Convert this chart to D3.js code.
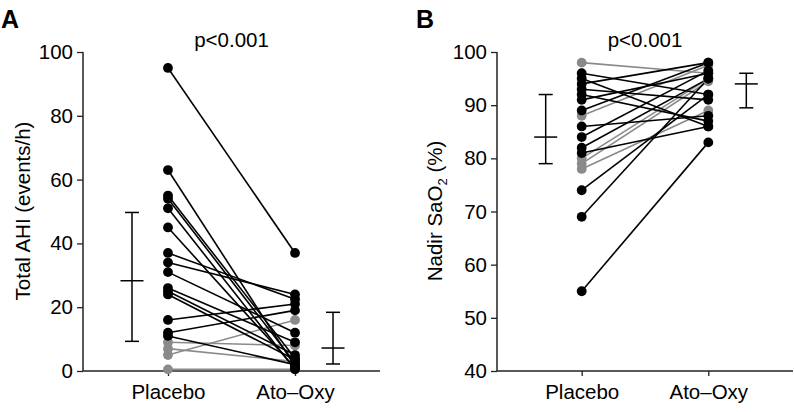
<!DOCTYPE html>
<html>
<head>
<meta charset="utf-8">
<script src="https://cdn.jsdelivr.net/npm/d3@7"></script>
<style>
  body { margin: 0; background: #fff; }
  text { font-family: "Liberation Sans", Arial, sans-serif; fill: #000; }
</style>
</head>
<body>
<svg id="chart" width="794" height="412"></svg>
<script>
// ---- data ----
let groups = ["Placebo", "Ato–Oxy"];

// panel A: total AHI (events/h), one row per subject [placebo, ato-oxy]
let ahiBlack = [[95, 37], [63, 1.5], [55, 4], [54, 2.5], [51, 0.5], [45, 1],
                [37, 22.5], [34, 24], [31, 12], [26, 9], [25, 5], [24, 3.5],
                [16, 21], [12, 19], [11, 2]];
let ahiGrey = [[9, 8], [5, 16], [7, 3], [0.5, 0.5]];
let ahiSummary = [{mid: 28.3, lo: 9.3, hi: 49.7}, {mid: 7.2, lo: 2.2, hi: 18.4}];
let ahiTicks = [0, 20, 40, 60, 80, 100];

// panel B: nadir SaO2 (%)
let satBlack = [[96, 92], [95, 86], [94, 98], [93, 91], [92, 87], [91, 96],
                [89, 98], [86, 88], [84, 96.5], [82, 95], [81, 86],
                [74, 92], [69, 95], [55, 83]];
let satGrey = [[98, 96], [88, 97.5], [80, 95], [78, 89], [79, 94.5]];
let satSummary = [{mid: 84, lo: 79, hi: 92}, {mid: 94, lo: 89.5, hi: 96}];
let satTicks = [40, 50, 60, 70, 80, 90, 100];

let svg = d3.select("#chart");
let black = "#000";
let grey = "#8a8a8a";
let fs = 20.5; // main font size

function drawPanel(opt) {
  let g = svg.append("g");
  let x = d3.scalePoint().domain(groups).range([opt.x0, opt.x1]).padding(0.669);
  let y = d3.scaleLinear().domain(opt.domain).range([371, 52]);

  // axes
  let yAxis = d3.axisLeft(y).tickValues(opt.ticks).tickSize(6).tickPadding(4);
  let ya = g.append("g").attr("transform", "translate(" + opt.x0 + ",0)").call(yAxis);
  let xAxis = d3.axisBottom(x).tickSize(5).tickPadding(8);
  let xa = g.append("g").attr("transform", "translate(0,371)").call(xAxis);
  [ya, xa].forEach(a => {
    a.select(".domain").attr("stroke", "#222").attr("stroke-width", 1.5)
    a.selectAll(".tick line").attr("stroke", "#222").attr("stroke-width", 1.3)
    a.selectAll(".tick text").attr("font-size", fs).attr("fill", "#000")
      .style("font-family", "Liberation Sans, Arial, sans-serif")
  })
  ya.select(".domain").attr("d", "M0,52V371")
  xa.select(".domain").attr("d", "M" + opt.x0 + ",0H" + opt.x1)

  // paired lines, grey first then black on top
  let sets = [{rows: opt.grey, col: grey}, {rows: opt.black, col: black}];
  sets.forEach(s => {
    g.append("g").selectAll("line").data(s.rows).enter().append("line")
      .attr("x1", x(groups[0])).attr("x2", x(groups[1]))
      .attr("y1", d => y(d[0])).attr("y2", d => y(d[1]))
      .attr("stroke", s.col).attr("stroke-width", 1.6)
  })
  sets.forEach(s => {
    let pts = [];
    s.rows.forEach(d => { pts.push([groups[0], d[0]]); pts.push([groups[1], d[1]]); })
    g.append("g").selectAll("circle").data(pts).enter().append("circle")
      .attr("cx", d => x(d[0])).attr("cy", d => y(d[1])).attr("r", 4.9)
      .attr("fill", s.col)
  })

  // summary bars
  let offs = [-36, 38];
  let sum = g.append("g").selectAll("g").data(opt.summary).enter().append("g")
    .attr("transform", (d, i) => "translate(" + (x(groups[i]) + offs[i]) + ",0)")
  sum.append("line").attr("y1", d => y(d.lo)).attr("y2", d => y(d.hi))
  sum.append("line").attr("x1", -7).attr("x2", 7).attr("y1", d => y(d.lo)).attr("y2", d => y(d.lo))
  sum.append("line").attr("x1", -7).attr("x2", 7).attr("y1", d => y(d.hi)).attr("y2", d => y(d.hi))
  sum.append("line").attr("x1", -11.5).attr("x2", 11.5).attr("y1", d => y(d.mid)).attr("y2", d => y(d.mid))
  sum.selectAll("line").attr("stroke", black).attr("stroke-width", 1.5)

  // texts
  g.append("text").attr("x", opt.letterX).attr("y", 28).attr("font-size", 25)
    .attr("font-weight", "bold").text(opt.letter)
  g.append("text").attr("x", (x(groups[0]) + x(groups[1])) / 2).attr("y", 47)
    .attr("text-anchor", "middle").attr("font-size", fs).text("p<0.001")
  let t = g.append("text")
    .attr("transform", "translate(" + opt.titleX + ",211) rotate(-90)")
    .attr("text-anchor", "middle").attr("font-size", fs)
  opt.title(t)
}

drawPanel({x0: 83, x1: 380, domain: [0, 100], ticks: ahiTicks,
  black: ahiBlack, grey: ahiGrey, summary: ahiSummary,
  letter: "A", letterX: 1, titleX: 30,
  title: t => t.text("Total AHI (events/h)")})

drawPanel({x0: 497, x1: 793, domain: [40, 100], ticks: satTicks,
  black: satBlack, grey: satGrey, summary: satSummary,
  letter: "B", letterX: 416, titleX: 442,
  title: t => {
    t.append("tspan").text("Nadir SaO")
    t.append("tspan").attr("font-size", 13).attr("dy", 5).text("2")
    t.append("tspan").attr("dy", -5).text(" (%)")
  }})
</script>
</body>
</html>
